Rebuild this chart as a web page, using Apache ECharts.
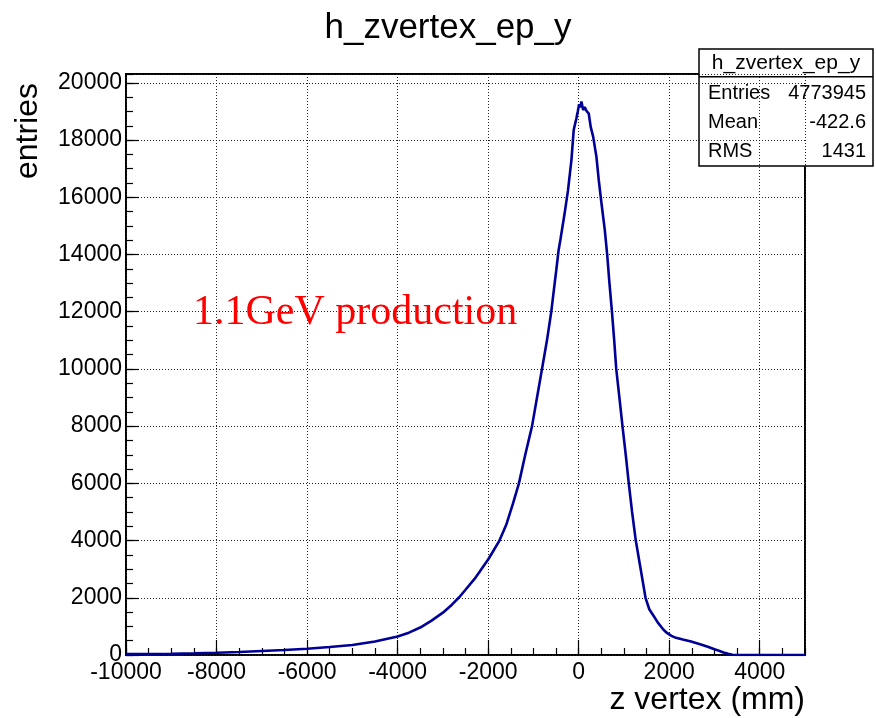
<!DOCTYPE html>
<html><head><meta charset="utf-8">
<script src="https://cdn.jsdelivr.net/npm/echarts@6/dist/echarts.min.js"></script>
<style>html,body{margin:0;padding:0;background:#fff}#c{width:876px;height:718px}</style>
</head><body><div id="c"></div>
<script>
// z vertex (mm) sample positions
const zVertex = [-10000,-9500,-9000,-8500,-8000,-7500,-7000,-6500,-6000,-5500,-5000,-4500,-4000,-3750,-3500,-3250,-3000,-2800,-2650,-2500,-2300,-2150,-2000,-1900,-1750,-1600,-1450,-1320,-1180,-1030,-920,-810,-700,-605,-545,-495,-443,-400,-310,-235,-160,-110,-50,-20,10,40,60,80,100,133,180,222,266,320,392,444,503,577,630,680,735,785,830,900,968,1040,1107,1180,1262,1370,1477,1560,1650,1750,1870,1950,2050,2150,2300,2483,2700,2852,3000,3100,3200,3300,3400,3500,4000,4500,5000];
// entries per bin at those positions
const entries = [30,35,45,60,80,105,140,175,220,280,350,470,650,780,960,1200,1480,1760,2000,2280,2660,3000,3340,3600,4000,4550,5300,6000,7000,8000,9000,10000,11000,12000,12800,13450,14150,14550,15440,16250,17300,18350,18760,19000,19250,19150,19350,19200,19050,19150,19000,18930,18460,18120,17420,16600,15800,14860,14000,13000,12000,11000,10000,9000,8000,7000,6000,5000,4000,3000,2000,1600,1380,1130,890,770,670,600,540,470,370,287,200,150,90,40,10,0,0,0,0];

const histTitle = 'h_zvertex_ep_y';
const xTitle = 'z vertex (mm)';
const yTitle = 'entries';
const note = '1.1GeV production';
const statsLabels = ['Entries', 'Mean', 'RMS'];
const statsValues = ['4773945', '-422.6', '1431'];

const xMin = -10000, xMax = 5000, xMajor = 2000, xMinor = 500;
const yMin = 0, yMax = 20310, yMajor = 2000, yMinor = 500;

const SANS = 'Liberation Sans, Arial, Helvetica, sans-serif';
const SERIF = 'Liberation Serif, Times New Roman, serif';

const chart = echarts.init(document.getElementById('c'), null, {renderer: 'canvas'});

const dotted = {color: '#222', width: 1, type: [1, 2]};
const plain = v => String(v);

const statsChildren = [
  {type: 'rect', shape: {x: 699, y: 49, width: 174, height: 117}, style: {fill: '#fff', stroke: '#000', lineWidth: 1.5}},
  {type: 'line', shape: {x1: 699, y1: 76.7, x2: 873, y2: 76.7}, style: {stroke: '#000', lineWidth: 1.5}},
  {type: 'text', x: 786, y: 63.5, style: {text: histTitle, font: '21px ' + SANS, fill: '#000', align: 'center', verticalAlign: 'middle', textAlign: 'center', textVerticalAlign: 'middle'}}
];
const rowY = [93.3, 122.5, 151.5];
statsLabels.forEach((lab, i) => {
  statsChildren.push({type: 'text', x: 708, y: rowY[i], style: {text: lab, font: '20px ' + SANS, fill: '#000', align: 'left', verticalAlign: 'middle', textAlign: 'left', textVerticalAlign: 'middle'}});
  statsChildren.push({type: 'text', x: 866, y: rowY[i], style: {text: statsValues[i], font: '20px ' + SANS, fill: '#000', align: 'right', verticalAlign: 'middle', textAlign: 'right', textVerticalAlign: 'middle'}});
});

const option = {
  backgroundColor: '#fff',
  animation: false,
  grid: {left: 126, right: 71, top: 74, bottom: 63, show: true, borderColor: '#000', borderWidth: 2, backgroundColor: 'transparent'},
  xAxis: [
    {type: 'value', min: xMin, max: xMax, interval: xMajor, position: 'bottom',
     axisLine: {show: false, onZero: false},
     axisTick: {show: true, inside: true, length: 15, lineStyle: {color: '#000', width: 1.2}},
     axisLabel: {show: true, color: '#000', fontSize: 23, fontFamily: SANS, margin: 6, showMaxLabel: false, formatter: plain},
     splitLine: {show: true, lineStyle: dotted}},
    {type: 'value', min: xMin, max: xMax, interval: xMinor, position: 'bottom',
     axisLine: {show: false, onZero: false},
     axisTick: {show: true, inside: true, length: 7, lineStyle: {color: '#000', width: 1.2}},
     axisLabel: {show: false}, splitLine: {show: false}}
  ],
  yAxis: [
    {type: 'value', min: yMin, max: yMax, interval: yMajor, position: 'left',
     axisLine: {show: false, onZero: false},
     axisTick: {show: true, inside: true, length: 13, lineStyle: {color: '#000', width: 1.2}},
     axisLabel: {show: true, color: '#000', fontSize: 23, fontFamily: SANS, margin: 4, showMaxLabel: false, formatter: plain},
     splitLine: {show: true, lineStyle: dotted}},
    {type: 'value', min: yMin, max: yMax, interval: yMinor, position: 'left',
     axisLine: {show: false, onZero: false},
     axisTick: {show: true, inside: true, length: 7, lineStyle: {color: '#000', width: 1.2}},
     axisLabel: {show: false}, splitLine: {show: false}}
  ],
  series: [{
    type: 'line', xAxisIndex: 0, yAxisIndex: 0,
    data: zVertex.map((z, i) => [z, entries[i]]),
    showSymbol: false, smooth: false, z: 5,
    lineStyle: {color: '#000099', width: 2.6},
    clip: true
  }],
  graphic: [
    {type: 'text', x: 448, y: 28, style: {text: histTitle, font: '35px ' + SANS, fill: '#000', align: 'center', verticalAlign: 'middle', textAlign: 'center', textVerticalAlign: 'middle'}},
    {type: 'text', x: 28, y: 83, rotation: Math.PI / 2, style: {text: yTitle, font: '32px ' + SANS, fill: '#000', align: 'right', verticalAlign: 'middle', textAlign: 'right', textVerticalAlign: 'middle'}},
    {type: 'text', x: 805, y: 700, style: {text: xTitle, font: '32px ' + SANS, fill: '#000', align: 'right', verticalAlign: 'middle', textAlign: 'right', textVerticalAlign: 'middle'}},
    {type: 'text', x: 193, y: 313, z: 10, style: {text: note, font: '42px ' + SERIF, fill: '#ff0000', align: 'left', verticalAlign: 'middle', textAlign: 'left', textVerticalAlign: 'middle'}},
    {type: 'group', z: 20, children: statsChildren}
  ]
};
chart.setOption(option);
</script>
</body></html>
